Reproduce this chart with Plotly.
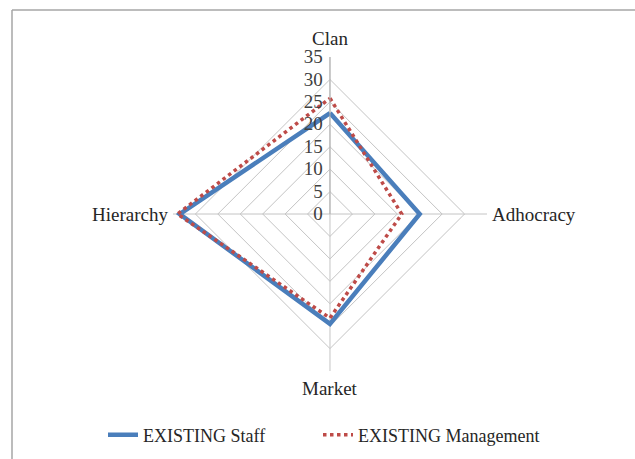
import plotly.graph_objects as go

# Culture profile dimensions (clockwise from top)
categories = ["Clan", "Adhocracy", "Market", "Hierarchy"]
staff_values = [22.5, 20.0, 24.5, 33.5]
management_values = [25.8, 16.0, 23.2, 34.0]
radial_ticks = [0, 5, 10, 15, 20, 25, 30, 35]

FONT = "Liberation Serif"
W, H = 635, 459

def closed(seq):
    return list(seq) + [seq[0]]

fig = go.Figure()
fig.add_trace(go.Scatterpolar(
    r=closed(staff_values), theta=closed(categories),
    mode="lines", name="EXISTING Staff", legend="legend", showlegend=True,
    line=dict(color="#4A7EBB", width=4.5),
))
fig.add_trace(go.Scatterpolar(
    r=closed(management_values), theta=closed(categories),
    mode="lines", name="EXISTING Management", legend="legend2", showlegend=True,
    line=dict(color="#BE4B48", width=3.5, dash="dot"),
))

# category labels placed around the chart, in pixel positions converted to paper coords
label_pos = {
    "Clan": (330, 38, "center"),
    "Adhocracy": (490, 214, "left"),
    "Market": (330, 388, "center"),
    "Hierarchy": (170, 214, "right"),
}
annotations = []
for name in categories:
    px, py, anchor = label_pos[name]
    annotations.append(dict(
        text=name, x=px / W, y=1 - py / H, xref="paper", yref="paper",
        xanchor=anchor, yanchor="middle", showarrow=False,
        font=dict(family=FONT, size=19, color="#262626"),
    ))

legend_style = dict(
    orientation="h", xanchor="left", y=1 - 435 / H, yanchor="middle",
    font=dict(family=FONT, size=18, color="#262626"),
    bgcolor="rgba(0,0,0,0)",
)

fig.update_layout(
    width=W, height=H,
    margin=dict(l=0, r=0, t=0, b=0),
    paper_bgcolor="white",
    showlegend=True,
    font=dict(family=FONT, size=19, color="#262626"),
    polar=dict(
        domain=dict(x=[0.2724, 0.7669], y=[0.1917, 0.8758]),
        bgcolor="white",
        gridshape="linear",
        angularaxis=dict(
            rotation=90, direction="clockwise",
            categoryorder="array", categoryarray=categories,
            showline=False, gridcolor="#C4C4C4", gridwidth=1,
            ticks="", showticklabels=False,
        ),
        radialaxis=dict(
            range=[0, 35], tickvals=radial_ticks,
            ticktext=[str(v) for v in radial_ticks],
            angle=90, tickangle=90, side="counterclockwise",
            showline=True, linecolor="#B0B0B0", linewidth=1,
            gridcolor="#C4C4C4", gridwidth=1,
            ticks="", tickfont=dict(family=FONT, size=19, color="#404040"),
        ),
    ),
    legend=dict(x=103 / W, **legend_style),
    legend2=dict(x=318 / W, **legend_style),
    annotations=annotations,
    shapes=[
        dict(type="line", xref="paper", yref="paper",
             x0=12 / W, x1=1.0, y0=1 - 10 / H, y1=1 - 10 / H,
             line=dict(color="#A6A6A6", width=1.5)),
        dict(type="line", xref="paper", yref="paper",
             x0=12 / W, x1=12 / W, y0=0, y1=1 - 10 / H,
             line=dict(color="#A6A6A6", width=1.5)),
    ],
)

fig.write_html("out.html")
